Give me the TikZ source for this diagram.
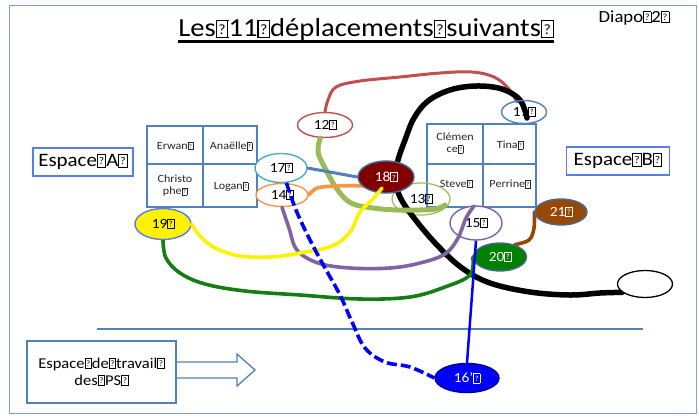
\documentclass[tikz,border=0pt]{standalone}
\usepackage{fontspec}
\setmainfont{Carlito}[FakeStretch=1.1]
\usepackage{graphicx}
\usetikzlibrary{shapes.geometric}
\pgfdeclarelayer{bg}
\pgfdeclarelayer{lines}
\pgfdeclarelayer{top}
\pgfsetlayers{bg,lines,main,top}
\newcommand{\tf}{\begingroup\setlength{\fboxsep}{0pt}\setlength{\fboxrule}{0.045em}\fbox{\makebox[0.4em]{\rule{0pt}{0.62em}\raisebox{0.1em}{\scalebox{0.55}{?}}}}\endgroup}
\definecolor{gridc}{RGB}{79,129,189}
\definecolor{espc}{RGB}{85,125,235}
\definecolor{framec}{RGB}{130,160,200}
\definecolor{redl}{RGB}{192,80,77}
\definecolor{lgreen}{RGB}{155,187,89}
\definecolor{orangel}{RGB}{247,150,70}
\definecolor{purplel}{RGB}{128,100,162}
\definecolor{cyanl}{RGB}{75,172,198}
\definecolor{darkred}{RGB}{128,0,0}
\definecolor{brownl}{RGB}{151,72,6}
\definecolor{greenf}{RGB}{0,128,0}
\definecolor{dgreen}{RGB}{20,125,20}
\definecolor{bluef}{RGB}{0,0,255}
\definecolor{edgec}{RGB}{70,105,150}
\tikzset{
  el/.style={ellipse, inner sep=0pt, line width=1.4pt, font=\fontsize{14}{14}\selectfont},
  gridtxt/.style={font=\fontsize{11}{12}\selectfont, align=center, text=black!85},
  espbox/.style={draw=espc, line width=1.5pt, minimum height=28pt, font=\fontsize{19}{19}\selectfont},
  fl/.style={line width=3.6pt, line cap=round, line join=round},
}
\begin{document}
\begin{tikzpicture}[x=1pt,y=-1pt]
\begin{pgfonlayer}{bg}
\useasboundingbox (0,0) rectangle (699,416);
\fill[white] (0,0) rectangle (699,416);
\draw[framec, line width=1pt] (9,5) rectangle (696,413);
% title
\node[inner sep=0pt, font=\fontsize{26}{26}\selectfont] (title) at (366,30) {Les\tf11\tf déplacements\tf suivants\tf};
\draw[line width=2.2pt] ([yshift=-4.5pt]title.base west) -- ([yshift=-4.5pt]title.base east);
\node[inner sep=0pt, font=\fontsize{17}{17}\selectfont] (diapo) at (634,18) {Diapo\tf2\tf};
% espace boxes
\node[espbox, minimum width=100pt] (espA) at (83,162) {Espace\tf A\tf};
\node[espbox, minimum width=103pt] (espB) at (618,161) {Espace\tf B\tf};
% left grid
\draw[gridc, line width=1.6pt] (147,126) rectangle (257,207) (203,126) -- (203,207) (147,164) -- (257,164);
\node[gridtxt] (erwan) at (175,146) {Erwan\tf};
\node[gridtxt] (anaelle) at (231,146) {Anaëlle\tf};
\node[gridtxt] (christo) at (175,186) {Christo\\phe\tf};
\node[gridtxt] (logan) at (231,187) {Logan\tf};
% right grid
\draw[gridc, line width=1.6pt] (427,124) rectangle (536,207) (483,124) -- (483,207) (427,164) -- (536,164);
\node[gridtxt] (clemence) at (455,143) {Clémen\\ce\tf};
\node[gridtxt] (tina) at (510,145) {Tina\tf};
\node[gridtxt] (steve) at (456,184) {Steve\tf};
\node[gridtxt] (perrine) at (510,184) {Perrine\tf};
% separator line
\draw[gridc, line width=1.5pt] (97,329) -- (643,329);
% workspace box and arrow
\node[draw=gridc, line width=1.5pt, minimum width=149pt, minimum height=62pt, align=center, font=\fontsize{15}{17}\selectfont] (work) at (101.5,372) {Espace\tf de\tf travail\tf\\des\tf PS\tf};
\draw[gridc, line width=1.3pt] (work.east |- 0,362) -- (237,362) -- (237,354) -- (255,370) -- (237,386) -- (237,378) -- (work.east |- 0,378);
% white ellipses
\node[el, draw=redl, fill=white, minimum width=55pt, minimum height=25pt] (n12) at (325,125) {12\tf};
\node[el, draw=cyanl, fill=white, minimum width=52pt, minimum height=29pt] (n17) at (281,168) {17\tf};
\node[el, draw=orangel, fill=white, minimum width=52pt, minimum height=23pt] (n14) at (282,195) {14\tf};
\node[el, draw=purplel, fill=white, minimum width=52pt, minimum height=34pt] (n15) at (476,223) {15\tf};
\node[el, draw=lgreen, line width=1.2pt, minimum width=58pt, minimum height=32pt] (n13) at (421,199) {13\tf};
\end{pgfonlayer}
% filled ellipses
\node[el, draw=edgec, fill=darkred, text=white, minimum width=56pt, minimum height=32pt] (n18) at (386,177) {18\tf};
\node[el, draw=espc, fill=yellow, minimum width=56pt, minimum height=31pt] (n19) at (163,224) {19\tf};
\node[el, draw=edgec, fill=greenf, text=white, minimum width=53pt, minimum height=28pt] (n20) at (500,257) {20\tf};
\node[el, draw=edgec, fill=brownl, text=white, minimum width=52pt, minimum height=26pt] (n21) at (561,212) {21\tf};
\node[el, draw=blue!60!black, fill=bluef, text=white, minimum width=64pt, minimum height=29pt] (n16) at (467,378) {16’\tf};
\node[el, draw=black, line width=1.3pt, fill=white, minimum width=55pt, minimum height=27pt] (ne) at (645,284) {};
\node[el, draw=gridc, minimum width=45pt, minimum height=23pt] (n11) at (524,112) {11\tf};
\coordinate (b11) at (527,118);
% freehand lines
\begin{pgfonlayer}{lines}
\draw[fl, redl, line width=3pt] plot[smooth, tension=0.6] coordinates {(n12.north) (328,100) (336,87) (360,81) (400,77) (440,73) (472,72) (494,77) (508,88) (517,102)};
\draw[fl, black, line width=5.5pt] plot[smooth, tension=0.6] coordinates {(b11) (520,100) (502,89) (476,86) (450,90) (428,101) (414,118) (405,140) (398,160) (395,178) (400,197) (414,218) (437,245) (462,268) (490,283) (530,292) (570,295) (600,293) (ne.200)};
\draw[fl, lgreen, line width=5pt] plot[smooth, tension=0.6] coordinates {(n12.250) (318,152) (325,168) (337,189) (351,203) (373,208) (397,210) (420,210) (436,209) (445,205)};
\draw[fl, orangel] plot[smooth, tension=0.5] coordinates {(n14.east) (317,188) (335,186) (365,186) (385,190) (n13.160)};
\draw[fl, gridc, line width=3pt] (n17.east) -- (n18.west);
\draw[fl, purplel] plot[smooth, tension=0.6] coordinates {(n14.south) (289,228) (297,250) (318,263) (350,268) (390,268) (420,263) (445,254) (458,238) (466,218) (474,206)};
\draw[fl, dgreen] plot[smooth, tension=0.6] coordinates {(n19.south) (166,258) (180,273) (205,284) (245,291) (300,295) (360,299) (410,297) (445,287) (470,275) (n20.west)};
\draw[fl, brownl] plot[smooth, tension=0.6] coordinates {(n21.west) (534,228) (529,240) (n20.40)};
\end{pgfonlayer}
\begin{pgfonlayer}{top}
\draw[fl, yellow] plot[smooth, tension=0.6] coordinates {(382,188) (372,200) (360,212) (350,232) (332,246) (300,253) (270,257) (240,256) (215,248) (200,236) (n19.east)};
\draw[fl, bluef, line cap=butt, dash pattern=on 10pt off 4pt] plot[smooth, tension=0.6] coordinates {(n17.290) (296,210) (310,240) (325,268) (340,295) (352,322) (365,348) (385,362) (410,367) (n16.west)};
\draw[bluef, line width=2.5pt] (n15.south) -- (n16.north);
\end{pgfonlayer}
\end{tikzpicture}
\end{document}
